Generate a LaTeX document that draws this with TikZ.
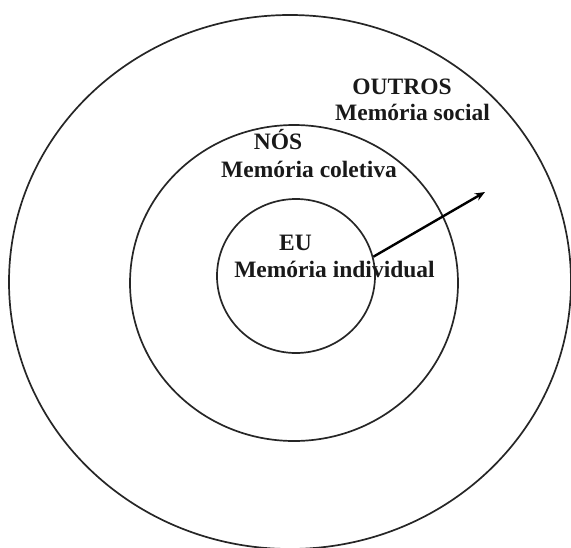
\documentclass[tikz,border=0pt]{standalone}
\usepackage{fontspec}
\setmainfont{Liberation Serif}
\usetikzlibrary{shapes.geometric,arrows.meta}
\begin{document}
\begin{tikzpicture}[x=1pt,y=-1pt,
  ring/.style={draw=black!85,line width=1.7pt,ellipse,inner sep=0pt},
  lbl/.style={font=\fontsize{23.5}{28}\selectfont\bfseries,anchor=base,inner sep=0pt,text=black!90}]
\useasboundingbox (0,0) rectangle (571,547);
\node[ring,minimum width=562pt,minimum height=534pt] (outer) at (290,282) {};
\node[ring,minimum width=328pt,minimum height=316pt] (middle) at (294,283) {};
\node[ring,minimum width=158pt,minimum height=154pt] (inner) at (296,276) {};
\node[lbl] (outros) at (402,94.5) {OUTROS};
\node[lbl] (social) at (412.5,120.7) {Memória social};
\node[lbl] (nos) at (278,149.3) {NÓS};
\node[lbl] (coletiva) at (309,177.3) {Memória coletiva};
\node[lbl] (eu) at (295.5,250.7) {EU};
\node[lbl] (individual) at (334.5,277.7) {Memória individual};
\coordinate (tip) at (485,192);
\draw[line width=2.4pt,-{Stealth[length=10pt,width=8pt]}] (inner.14) -- (tip);
\end{tikzpicture}
\end{document}
